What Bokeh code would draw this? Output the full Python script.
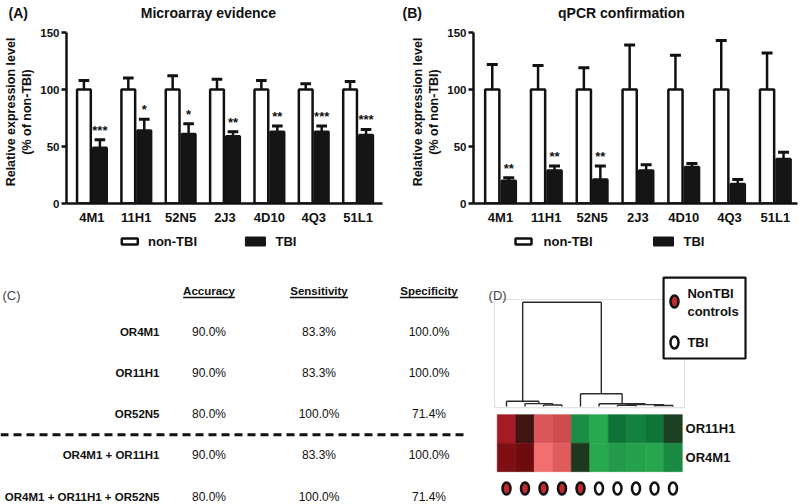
import math
from bokeh.plotting import figure
from bokeh.models import Range1d, FixedTicker, Label, LinearColorMapper, ColumnDataSource
from bokeh.layouts import column, row
from bokeh.embed import file_html
from bokeh.resources import INLINE
from bokeh.core.properties import value

# ---------------- data ----------------
genes = ["4M1", "11H1", "52N5", "2J3", "4D10", "4Q3", "51L1"]
yticks = [0, 50, 100, 150]
legend_labels = ["non-TBI", "TBI"]
y_label = "Relative expression level\n(% of non-TBI)"

ma_non_tbi = [100, 100, 100, 100, 100, 100, 100]
ma_non_tbi_err = [8, 10, 12, 9, 8, 5, 7]
ma_tbi = [49, 64, 61, 59, 63, 63, 60]
ma_tbi_err = [7, 10, 9, 4, 5, 5, 5]
ma_stars = ["***", "*", "*", "**", "**", "***", "***"]

qpcr_non_tbi = [100, 100, 100, 100, 100, 100, 100]
qpcr_non_tbi_err = [22, 21, 19, 39, 30, 43, 32]
qpcr_tbi = [20, 29, 21, 29, 32, 17, 39]
qpcr_tbi_err = [2.5, 4, 12, 5, 3, 4, 6]
qpcr_stars = ["**", "**", "**", "", "", "", ""]

table_columns = ["Accuracy", "Sensitivity", "Specificity"]
table_rows = ["OR4M1", "OR11H1", "OR52N5", "OR4M1 + OR11H1", "OR4M1 + OR11H1 + OR52N5"]
accuracy = ["90.0%", "90.0%", "80.0%", "90.0%", "80.0%"]
sensitivity = ["83.3%", "83.3%", "100.0%", "83.3%", "100.0%"]
specificity = ["100.0%", "100.0%", "71.4%", "100.0%", "71.4%"]
n_single_markers = 3

heat_genes = ["OR11H1", "OR4M1"]
heat_or11h1 = [0.59, 0.12, 0.865, 0.81, -0.55, -0.82, -0.38, -0.47, -0.40, -0.15]
heat_or4m1 = [0.45, 0.39, 0.98, 0.885, -0.12, -0.82, -0.67, -0.73, -0.79, -0.53]
sample_groups = ["NonTBI"] * 5 + ["TBI"] * 5
group_legend = ["NonTBI\ncontrols", "TBI"]
# dendrogram merges (left node, right node, height); leaves 0..9, new nodes 10..
dendro_merges = [(2, 3, 0.15), (1, 10, 0.28), (0, 11, 0.5), (6, 7, 0.12), (8, 9, 0.10),
                 (13, 14, 0.18), (5, 15, 0.26), (4, 16, 1.22), (12, 17, 10.0)]

FONT = "Liberation Sans"
INK = "#111111"
NBSP = "\u00a0"


def bar_panel(letter, title, non, non_err, tbi, tbi_err, stars, W, fl, fr, first_c, spacing,
              leg_px, title_left, letter_x):
    xs = (fl - first_c) / spacing
    xe = (fr - first_c) / spacing
    ppu = 171 / 150.0
    frame_top = 20
    ytop = yticks[-1] + (32 - frame_top) / ppu

    def X(px):
        return xs + (px - fl) / spacing

    p = figure(width=W, height=230, output_backend="svg", toolbar_location=None,
               x_range=Range1d(xs, xe), y_range=Range1d(0, ytop),
               min_border_left=fl, min_border_right=W - fr, min_border_top=frame_top, min_border_bottom=27)
    p.xgrid.visible = False
    p.ygrid.visible = False
    p.outline_line_color = None
    idx = list(range(len(genes)))
    half, bw, cap = 0.18, 0.31, 0.12
    xn = [i - half for i in idx]
    xt = [i + half for i in idx]
    p.vbar(x=xn, top=non, bottom=0, width=bw, fill_color="white", line_color=INK, line_width=2.5)
    p.vbar(x=xt, top=tbi, bottom=0, width=bw, fill_color="#151515", line_color="#151515", line_width=2.5)
    for xx, m, e in ((xn, non, non_err), (xt, tbi, tbi_err)):
        tops = [a + b for a, b in zip(m, e)]
        p.segment(x0=xx, y0=m, x1=xx, y1=tops, line_color=INK, line_width=2.5)
        p.segment(x0=[x - cap for x in xx], y0=tops, x1=[x + cap for x in xx], y1=tops,
                  line_color=INK, line_width=3)
    star_y = [a + b for a, b in zip(tbi, tbi_err)]
    p.text(x=xt, y=star_y, text=stars, text_align="center", text_baseline="bottom", y_offset=-2,
           text_font=value(FONT), text_font_style="bold", text_font_size="13px", text_color=INK)

    p.xaxis.ticker = FixedTicker(ticks=idx)
    p.xaxis.major_label_overrides = {i: g for i, g in enumerate(genes)}
    p.xaxis.minor_tick_line_color = None
    p.xaxis.major_tick_line_color = None
    p.xaxis.axis_line_width = 2.5
    p.xaxis.major_label_standoff = 0
    p.yaxis.ticker = FixedTicker(ticks=yticks)
    p.yaxis.bounds = (yticks[0], yticks[-1])
    p.yaxis.major_tick_in = 0
    p.yaxis.major_tick_out = 5
    p.yaxis.major_tick_line_width = 2.5
    p.yaxis.major_tick_line_color = INK
    p.yaxis.minor_tick_line_color = None
    p.yaxis.axis_line_width = 2.5
    p.yaxis.major_label_standoff = 2
    p.yaxis.axis_label = y_label
    p.yaxis.axis_label_standoff = 3
    p.yaxis.axis_label_text_font = FONT
    p.yaxis.axis_label_text_font_style = "bold"
    p.yaxis.axis_label_text_font_size = "12.5px"
    p.yaxis.axis_label_text_color = INK
    for ax, fs in ((p.xaxis, "13px"), (p.yaxis, "11.5px")):
        ax.major_label_text_font = FONT
        ax.major_label_text_font_style = "bold"
        ax.major_label_text_font_size = fs
        ax.major_label_text_color = INK
        ax.axis_line_color = INK

    # panel letter + title share the title line
    gap = int(round((title_left - letter_x - 19.4) / 3.9))
    p.title.text = letter + NBSP * gap + title
    p.title.align = "left"
    p.title.offset = letter_x - fl
    p.title.standoff = 0
    p.title.text_font = FONT
    p.title.text_font_style = "bold"
    p.title.text_font_size = "14px"
    p.title.text_color = INK

    # legend strip below the bar panel
    lg = figure(width=W, height=33, output_backend="svg", toolbar_location=None,
                x_range=Range1d(xs, xe), y_range=Range1d(33, 0),
                x_axis_location=None, y_axis_location=None,
                min_border_left=fl, min_border_right=W - fr, min_border_top=0, min_border_bottom=0)
    lg.grid.visible = False
    lg.outline_line_color = None
    (wx, tx1), (bx, tx2) = leg_px
    lg.rect(x=[X(wx)], y=[11], width=16, height=6, width_units="screen", height_units="screen",
            fill_color="white", line_color=INK, line_width=2.5)
    lg.rect(x=[X(bx)], y=[11], width=20, height=9, width_units="screen", height_units="screen",
            fill_color="#151515", line_color="#151515", line_width=1)
    lg.text(x=[X(tx1), X(tx2)], y=[11, 11], text=legend_labels, text_align="left", text_baseline="middle",
            text_font=value(FONT), text_font_style="bold", text_font_size="13px", text_color=INK)
    return column(p, lg)


pA = bar_panel("(A)", "Microarray evidence", ma_non_tbi, ma_non_tbi_err, ma_tbi, ma_tbi_err, ma_stars,
               400, 60, 382, 85.9, 45.2, ((124.5, 143), (252.5, 273)), 135, 2)
pB = bar_panel("(B)", "qPCR confirmation", qpcr_non_tbi, qpcr_non_tbi_err, qpcr_tbi, qpcr_tbi_err, qpcr_stars,
               400, 73, 397, 100, 45.8, ((123, 143), (263, 283)), 158, 2)

# ---------------- panel C: table ----------------
cx0, cx1 = 1 - 208.5 / 110, 1 + 271.5 / 110
cy_top, cy_bot = -27 / 41.2, 214 / 41.2
pc = figure(width=480, height=241, output_backend="svg", toolbar_location=None,
            x_range=Range1d(cx0, cx1), y_range=Range1d(cy_bot, cy_top),
            x_axis_location=None, y_axis_location=None, min_border=0)
pc.grid.visible = False
pc.outline_line_color = None
rows_y = [i + 1 for i in range(len(table_rows))]
col_x = [1, 2, 3]
pc.text(x=[0.55] * len(table_rows), y=rows_y, text=table_rows, text_align="right", text_baseline="middle",
        text_font=value(FONT), text_font_style="bold", text_font_size="11.5px", text_color=INK)
for cx, vals in zip(col_x, (accuracy, sensitivity, specificity)):
    pc.text(x=[cx] * len(vals), y=rows_y, text=vals, text_align="center", text_baseline="middle",
            text_font=value(FONT), text_font_size="12px", text_color=INK)
pc.text(x=col_x, y=[0] * 3, text=table_columns, text_align="center", text_baseline="middle",
        text_font=value(FONT), text_font_style="bold", text_font_size="11.5px", text_color=INK)
uw = [0.235, 0.265, 0.265]
pc.segment(x0=[c - w for c, w in zip(col_x, uw)], y0=[0.17] * 3, x1=[c + w for c, w in zip(col_x, uw)],
           y1=[0.17] * 3, line_color=INK, line_width=1.3)
pc.segment(x0=[cx0], y0=[n_single_markers + 0.5], x1=[1 + (465 - 208.5) / 110], y1=[n_single_markers + 0.5],
           line_color=INK, line_width=3, line_dash="8 5")
pc.add_layout(Label(x=cx0 + 2 / 110, y=0.12, text="(C)", text_font=FONT, text_font_size="13px",
                    text_align="left", text_baseline="middle"))

# ---------------- panel D: dendrogram + heatmap ----------------
pd_ = figure(width=320, height=241, output_backend="svg", toolbar_location=None,
             x_range=Range1d(-26 / 18.5, 294 / 18.5), y_range=Range1d(-47.1 / 28.5, 193.9 / 28.5),
             x_axis_location=None, y_axis_location=None, min_border=0)
pd_.extra_y_ranges = {"dendro": Range1d(-98 / 10.43, 143 / 10.43)}
pd_.grid.visible = False
pd_.outline_line_color = None

anchors = [(-1.0, "#30b855"), (-0.6, "#1f9448"), (-0.35, "#0c6e34"), (0.0, "#2a1a14"),
           (0.4, "#700b0f"), (0.6, "#a81c24"), (0.85, "#d65456"), (1.0, "#f47272")]


def hex2rgb(h):
    return tuple(int(h[i:i + 2], 16) for i in (1, 3, 5))


def interp(v):
    for (v0, c0), (v1, c1) in zip(anchors, anchors[1:]):
        if v0 <= v <= v1:
            t = (v - v0) / (v1 - v0)
            a, b = hex2rgb(c0), hex2rgb(c1)
            return "#%02x%02x%02x" % tuple(int(round(a[i] + (b[i] - a[i]) * t)) for i in range(3))
    return anchors[-1][1]


palette = [interp(-1 + 2 * k / 255) for k in range(256)]
mapper = LinearColorMapper(palette=palette, low=-1, high=1)

n_samples = len(sample_groups)
hx, hy, hv = [], [], []
for rowv, vals in ((1, heat_or11h1), (0, heat_or4m1)):
    for i, v in enumerate(vals):
        hx.append(i)
        hy.append(rowv)
        hv.append(v)
hsrc = ColumnDataSource(dict(x=hx, y=hy, v=hv))
pd_.rect(x="x", y="y", width=1, height=1, source=hsrc,
         fill_color={"field": "v", "transform": mapper},
         line_color={"field": "v", "transform": mapper}, line_width=0.6)
pd_.text(x=[9.68, 9.68], y=[1, 0], text=heat_genes, text_align="left", text_baseline="middle",
         text_font=value(FONT), text_font_style="bold", text_font_size="13px", text_color=INK)

# dendrogram
pd_.quad(left=[-0.65], right=[9.62], bottom=[-0.1], top=[10.26], y_range_name="dendro",
         fill_color=None, line_color="#e2e2e2", line_width=1.2)
pos = {i: float(i) for i in range(n_samples)}
hgt = {i: 0.0 for i in range(n_samples)}
sx0, sy0, sx1, sy1 = [], [], [], []
for k, (a, b, h) in enumerate(dendro_merges):
    node = n_samples + k
    sx0 += [pos[a], pos[b], pos[a]]
    sy0 += [hgt[a], hgt[b], h]
    sx1 += [pos[a], pos[b], pos[b]]
    sy1 += [h, h, h]
    pos[node] = (pos[a] + pos[b]) / 2
    hgt[node] = h
pd_.segment(x0=sx0, y0=sy0, x1=sx1, y1=sy1, y_range_name="dendro", line_color="#2a2a2a", line_width=1.4)

RED = "#c22a30"
fills = [RED if g == "NonTBI" else "white" for g in sample_groups]
pd_.ellipse(x=list(range(n_samples)), y=[-1.09] * n_samples, width=8, height=12,
            width_units="screen", height_units="screen", fill_color=fills,
            line_color=INK, line_width=2.5)

# legend box
pd_.quad(left=[8.49], right=[12.92], bottom=[3.47], top=[6.31], fill_color="white",
         line_color=INK, line_width=2.2)
pd_.ellipse(x=[9.08, 9.08], y=[5.47, 4.03], width=8, height=12, width_units="screen", height_units="screen",
            fill_color=[RED, "white"], line_color=INK, line_width=2.5)
leg_lines = group_legend[0].split("\n") + [group_legend[1]]
pd_.text(x=[9.78] * 3, y=[5.75, 5.12, 4.03], text=leg_lines, text_align="left", text_baseline="middle",
         text_font=value(FONT), text_font_style="bold", text_font_size="13px", text_color=INK)
pd_.add_layout(Label(x=-0.97, y=5.68, text="(D)", text_font=FONT, text_font_size="13px",
                     text_align="left", text_baseline="middle"))

layout = column(row(pA, pB), row(pc, pd_))
open("out.html", "w").write(file_html(layout, INLINE))
